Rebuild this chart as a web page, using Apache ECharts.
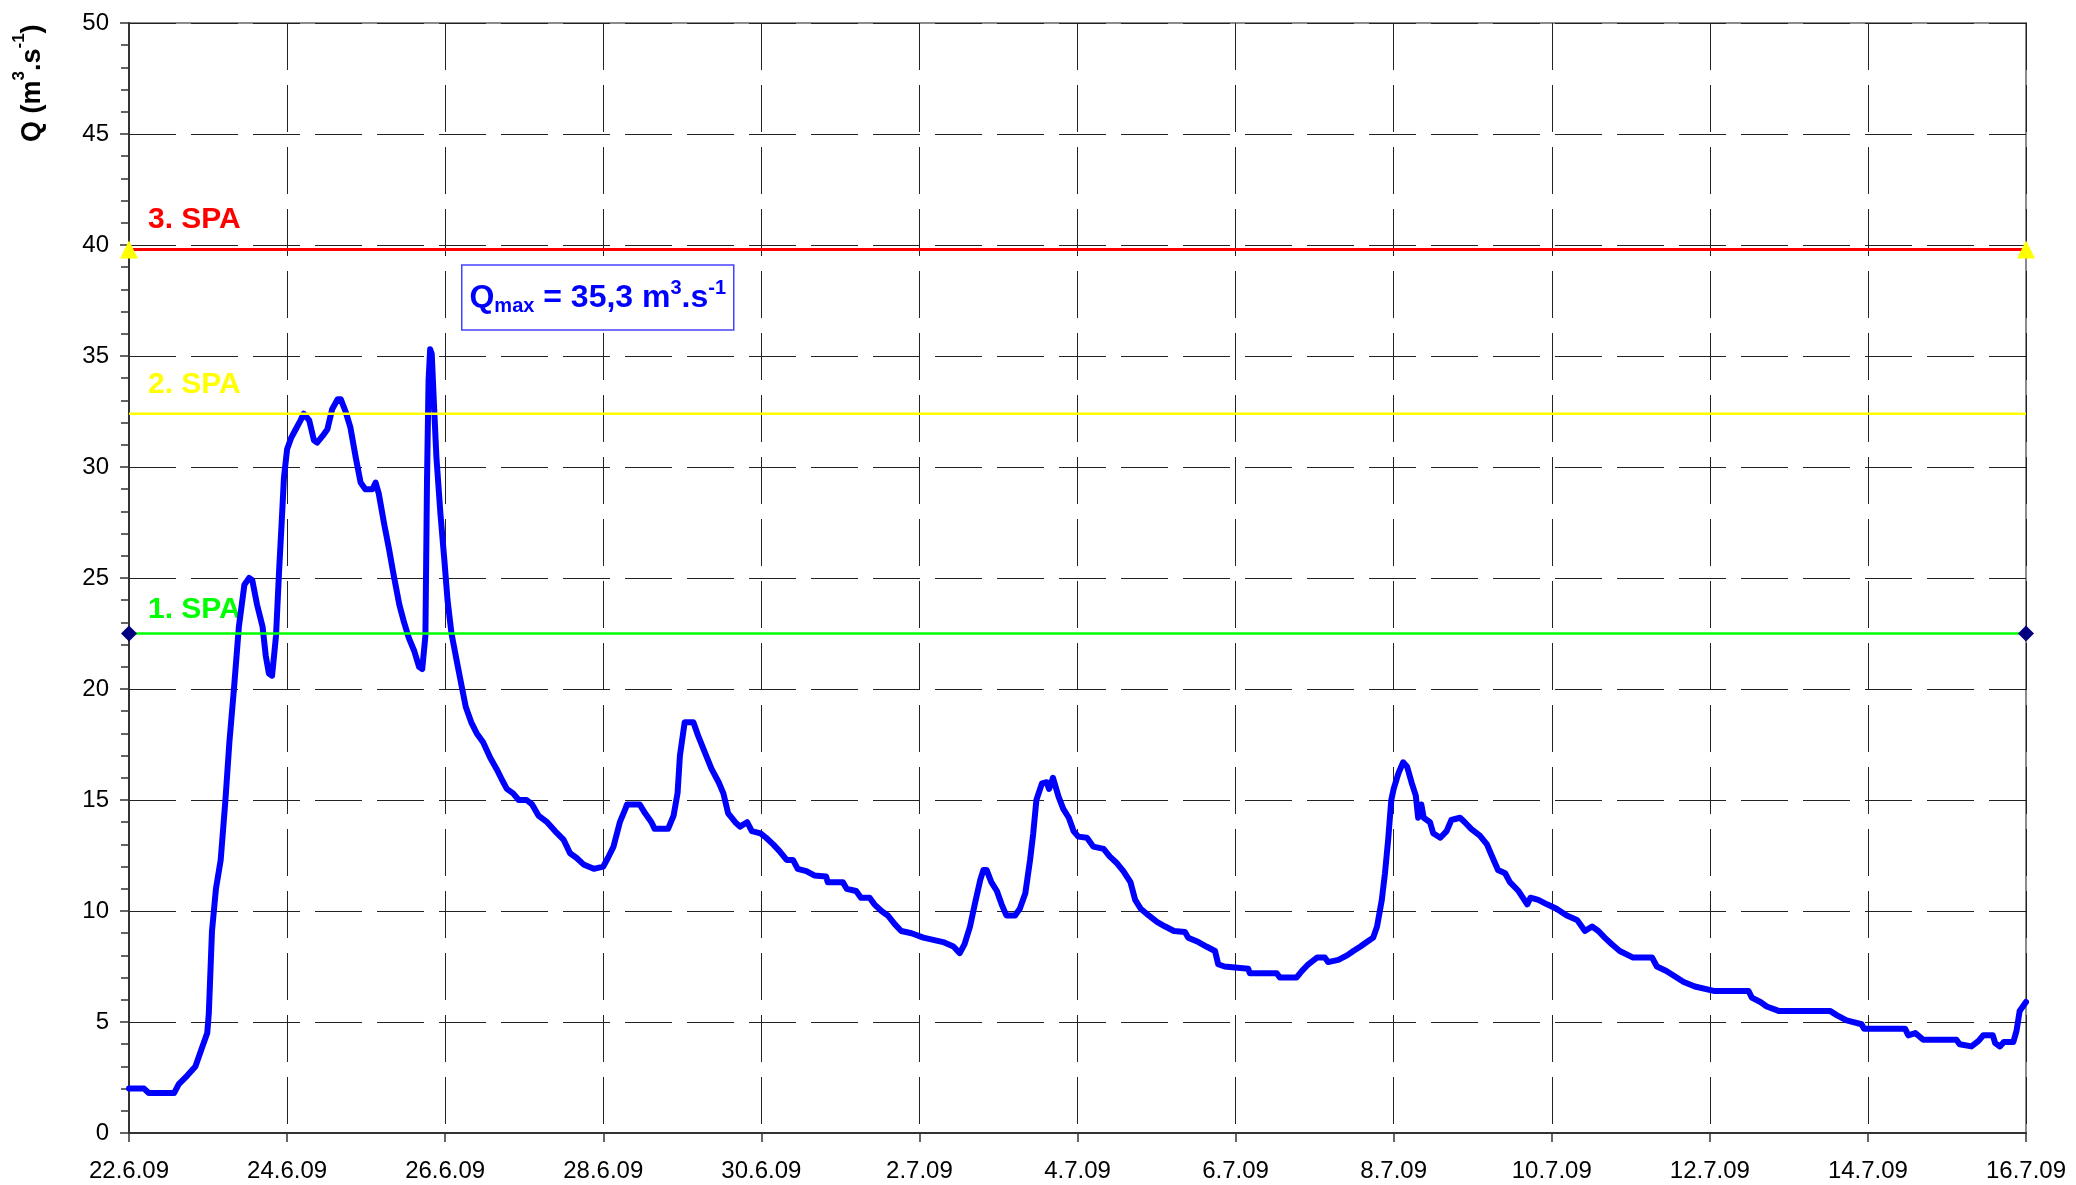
<!DOCTYPE html>
<html>
<head>
<meta charset="utf-8">
<script src="https://cdn.jsdelivr.net/npm/echarts@6/dist/echarts.min.js"></script>
<style>
html,body{margin:0;padding:0;background:#fff;}
#c{width:2076px;height:1185px;}
</style>
</head>
<body>
<div id="c"></div>
<script>
// x tick labels (one every 2 days, starting 22.6.09)
const dateLabels = ['22.6.09','24.6.09','26.6.09','28.6.09','30.6.09','2.7.09','4.7.09','6.7.09','8.7.09','10.7.09','12.7.09','14.7.09','16.7.09'];

// time in days since 22.6.09
const days = [
0.00,0.19,0.25,0.57,0.63,0.74,0.84,0.91,0.99,1.01,1.05,1.10,1.16,1.22,1.27,1.33,1.39,1.46,1.52,1.56,
1.62,1.69,1.73,1.77,1.81,1.86,1.90,1.93,1.96,2.00,2.05,2.11,2.17,2.21,2.28,2.34,2.38,2.45,2.51,2.57,
2.64,2.68,2.74,2.80,2.87,2.93,2.99,3.08,3.12,3.16,3.23,3.29,3.35,3.42,3.48,3.54,3.61,3.67,3.71,3.75,
3.77,3.79,3.81,3.83,3.86,3.89,3.94,3.99,4.03,4.08,4.15,4.21,4.26,4.33,4.40,4.48,4.57,4.65,4.72,4.78,
4.86,4.93,5.03,5.10,5.18,5.29,5.39,5.50,5.58,5.66,5.75,5.88,6.00,6.06,6.13,6.21,6.28,6.30,6.46,6.53,
6.61,6.65,6.82,6.89,6.94,6.97,7.03,7.14,7.20,7.29,7.37,7.46,7.52,7.58,7.67,7.73,7.82,7.88,7.99,8.06,
8.15,8.23,8.32,8.40,8.46,8.57,8.67,8.82,8.84,9.03,9.08,9.20,9.26,9.37,9.43,9.52,9.60,9.69,9.77,9.90,
10.05,10.30,10.43,10.51,10.57,10.64,10.70,10.77,10.81,10.85,10.91,10.98,11.04,11.10,11.21,11.27,11.34,11.40,11.44,11.48,
11.55,11.61,11.64,11.69,11.76,11.82,11.89,11.95,12.01,12.12,12.20,12.33,12.41,12.50,12.58,12.67,12.73,12.80,12.90,13.01,
13.11,13.22,13.36,13.40,13.53,13.63,13.74,13.78,13.86,14.16,14.18,14.52,14.56,14.77,14.84,14.92,15.03,15.13,15.17,15.30,
15.41,15.49,15.58,15.66,15.74,15.79,15.85,15.89,15.93,15.97,16.00,16.06,16.12,16.17,16.23,16.28,16.31,16.35,16.38,16.46,
16.50,16.59,16.67,16.73,16.84,16.90,16.98,17.09,17.18,17.24,17.32,17.41,17.47,17.58,17.69,17.73,17.83,17.94,18.06,18.19,
18.32,18.42,18.51,18.59,18.67,18.76,18.86,19.03,19.27,19.33,19.45,19.58,19.67,19.81,20.05,20.49,20.53,20.64,20.72,20.87,
21.52,21.61,21.73,21.92,21.95,22.47,22.51,22.60,22.70,23.12,23.16,23.31,23.40,23.46,23.58,23.61,23.67,23.72,23.84,23.88,
23.92,24.00
];
// discharge Q (m3/s)
const flow = [
2.0,2.0,1.8,1.8,2.2,2.6,3.0,3.7,4.5,5.4,9.1,11.0,12.3,15.0,17.6,20.1,22.8,24.7,25.0,24.9,
23.8,22.8,21.5,20.7,20.6,22.4,25.4,27.4,29.5,30.8,31.3,31.7,32.1,32.4,32.1,31.2,31.1,31.4,31.7,32.6,
33.05,33.05,32.5,31.8,30.4,29.3,29.0,29.0,29.3,28.8,27.4,26.3,25.1,23.8,23.0,22.3,21.7,21.0,20.9,22.4,
29.3,33.9,35.3,35.1,32.7,30.4,27.9,25.8,24.0,22.5,21.2,20.1,19.2,18.5,18.0,17.6,16.9,16.4,15.9,15.5,
15.3,15.0,15.0,14.8,14.3,14.0,13.6,13.2,12.6,12.4,12.1,11.9,12.0,12.4,12.9,14.0,14.6,14.8,14.8,14.4,
14.0,13.7,13.7,14.3,15.3,17.0,18.5,18.5,17.9,17.1,16.4,15.8,15.3,14.4,14.0,13.8,14.0,13.6,13.5,13.3,
13.0,12.7,12.3,12.3,11.9,11.8,11.6,11.55,11.3,11.3,11.0,10.9,10.6,10.6,10.3,10.0,9.8,9.4,9.1,9.0,
8.8,8.6,8.4,8.1,8.5,9.3,10.3,11.4,11.85,11.85,11.3,10.9,10.3,9.8,9.8,10.1,10.8,12.3,13.5,15.0,
15.75,15.8,15.5,16.0,15.15,14.6,14.2,13.6,13.35,13.3,12.9,12.8,12.45,12.15,11.8,11.3,10.5,10.1,9.8,9.5,
9.3,9.1,9.05,8.8,8.6,8.4,8.2,7.6,7.5,7.4,7.2,7.2,7.0,7.0,7.3,7.6,7.9,7.9,7.7,7.8,
8.0,8.2,8.4,8.6,8.8,9.3,10.5,11.7,13.2,15.0,15.5,16.2,16.7,16.5,15.75,15.2,14.2,14.8,14.2,14.0,
13.5,13.3,13.6,14.1,14.2,14.0,13.7,13.4,13.0,12.5,11.85,11.7,11.3,10.9,10.3,10.6,10.5,10.3,10.1,9.8,
9.6,9.1,9.3,9.1,8.8,8.5,8.2,7.9,7.9,7.5,7.3,7.0,6.8,6.6,6.4,6.4,6.1,5.9,5.7,5.5,
5.5,5.3,5.07,4.9,4.7,4.7,4.4,4.5,4.2,4.2,4.0,3.9,4.15,4.4,4.4,4.05,3.9,4.1,4.1,4.6,
5.5,5.9
];

// flood activity levels (SPA)
const levelNames = ['1. SPA','2. SPA','3. SPA'];
const levelValues = [22.5, 32.4, 39.8];
const levelColors = ['#00ff00','#ffff00','#ff0000'];
const qMax = '35,3';

const xStart = 0, xEnd = 24;

const chart = echarts.init(document.getElementById('c'), null, {renderer:'canvas'});
const FONT = '"Liberation Sans", Arial, sans-serif';
const series = [{
  type:'line',
  data: days.map((d,i)=>[d, flow[i]]),
  showSymbol:false,
  symbol:'none',
  lineStyle:{color:'#0000ff', width:6, join:'round', cap:'round'},
  z:2,
  animation:false
}];
const levelStyles = [
  {symbol:'diamond', size:16, color:'#000080', width:2.5},
  {symbol:'none', size:0, color:'#ffff00', width:2.5},
  {symbol:'triangle', size:18, color:'#ffff00', width:3}
];
levelValues.forEach((v,i)=>{
  const st = levelStyles[i];
  series.push({
    type:'line',
    data:[[xStart, v],[xEnd, v]],
    symbol: st.symbol,
    symbolSize: st.size,
    showSymbol: st.symbol !== 'none',
    itemStyle:{color: st.color},
    lineStyle:{color: levelColors[i], width: st.width},
    clip:false,
    z:3,
    animation:false
  });
});

chart.setOption({
  animation:false,
  grid:{left:129, right:50, top:23, bottom:52, show:true, borderColor:'#8a8a8a', borderWidth:2, backgroundColor:'transparent'},
  xAxis:{
    type:'value', min:0, max:24, interval:2,
    axisLine:{show:true, onZero:false, lineStyle:{color:'#333', width:2}},
    axisTick:{show:true, length:9, lineStyle:{color:'#333', width:1.5}},
    axisLabel:{fontSize:24, fontFamily:'"Liberation Sans Narrow", "Liberation Sans", Arial', color:'#000', margin:26,
      formatter:(v)=>dateLabels[Math.round(v/2)] || ''},
    splitLine:{show:true, lineStyle:{color:'#222', width:1, type:[47,15]}}
  },
  yAxis:{
    type:'value', min:0, max:50, interval:5,
    axisLine:{show:true, lineStyle:{color:'#333', width:2}},
    axisTick:{show:true, length:9, lineStyle:{color:'#333', width:1.5}},
    minorTick:{show:true, splitNumber:5, length:8, lineStyle:{color:'#333', width:1.5}},
    axisLabel:{fontSize:24, fontFamily:FONT, color:'#000', margin:20},
    splitLine:{show:true, lineStyle:{color:'#222', width:1, type:[47,15]}}
  },
  series: series
});

// annotations positioned through the chart's own coordinate system
function px(x,y){ return chart.convertToPixel({gridIndex:0}, [x,y]); }
const measureCtx = document.createElement('canvas').getContext('2d');
function textWidth(t, size){ measureCtx.font = 'bold ' + size + 'px ' + FONT; return measureCtx.measureText(t).width; }

const graphics = [];
// y-axis name: rotated group of pieces (main text + superscripts)
const nameParts = [
  {t:'Q (m', sup:false},
  {t:'3', sup:true},
  {t:'.s', sup:false},
  {t:'-1', sup:true},
  {t:')', sup:false}
];
const mainSize = 27, supSize = 17;
let off = 0;
const nameChildren = [];
nameParts.forEach(p=>{
  const s = p.sup ? supSize : mainSize;
  nameChildren.push({
    type:'text', x:off, y: p.sup ? -14 : 0,
    style:{text:p.t, fontSize:s, fontWeight:'bold', fontFamily:FONT, fill:'#000', align:'left', verticalAlign:'middle'}
  });
  off += textWidth(p.t, s);
});
graphics.push({type:'group', x:33, y:142, rotation:Math.PI/2, children:nameChildren});

// SPA labels
const labelOffsets = [24, 29, 30];
levelValues.forEach((v,i)=>{
  const p = px(0.24, v);
  graphics.push({
    type:'text', x:p[0], y:p[1]-labelOffsets[i],
    style:{text:levelNames[i], fontSize:30, fontWeight:'bold', fontFamily:FONT, fill:levelColors[i], align:'left', verticalAlign:'middle'}
  });
});
// Qmax box
const tl = px(4.21, 39.1);
graphics.push({
  type:'rect', shape:{x:tl[0], y:tl[1], width:272, height:65},
  style:{fill:'#fff', stroke:'#4444ff', lineWidth:1.5}, z:10
});
graphics.push({
  type:'text', x:tl[0]+136, y:tl[1]+33, z:11,
  style:{
    text:'{b|Q}{sub|max}{b| = '+qMax+' m}{sup|3}{b|.s}{sup|-1}',
    align:'center', verticalAlign:'middle',
    rich:{
      b:{fontSize:32, fontWeight:'bold', fontFamily:FONT, fill:'#0000ff', lineHeight:38, verticalAlign:'middle'},
      sub:{fontSize:20, fontWeight:'bold', fontFamily:FONT, fill:'#0000ff', lineHeight:20, verticalAlign:'bottom'},
      sup:{fontSize:20, fontWeight:'bold', fontFamily:FONT, fill:'#0000ff', lineHeight:20, verticalAlign:'top'}
    }
  }
});
chart.setOption({graphic: graphics});
</script>
</body>
</html>
